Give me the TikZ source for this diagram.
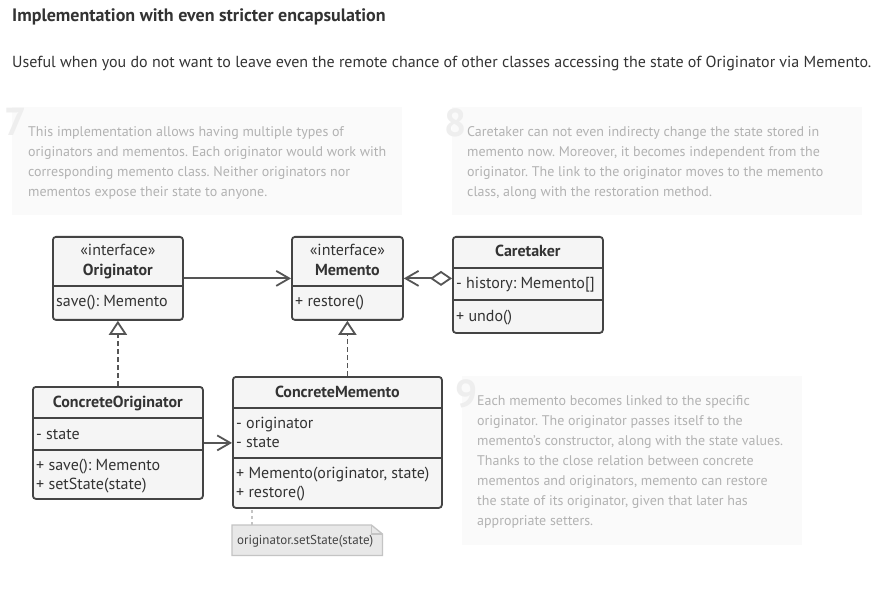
\documentclass[tikz,border=0pt]{standalone}
\usepackage{fontspec}
\setmainfont{PT Sans}
\usetikzlibrary{arrows.meta,positioning}
\frenchspacing

\definecolor{inkdark}{RGB}{51,51,51}
\definecolor{boxline}{RGB}{68,68,68}
\definecolor{boxfill}{RGB}{245,245,245}
\definecolor{wire}{RGB}{85,85,85}
\definecolor{tipfill}{RGB}{250,250,250}
\definecolor{tipink}{RGB}{178,178,178}
\definecolor{numgray}{RGB}{238,238,238}
\definecolor{notefill}{RGB}{232,232,232}
\definecolor{noteline}{RGB}{196,196,196}

\tikzset{
	cls/.style={draw=boxline, fill=boxfill, line width=1.8pt, rounded corners=3pt, inner sep=0pt, anchor=north west},
	clsline/.style={draw=boxline, line width=1.8pt},
	member/.style={text=inkdark, inner sep=0pt, anchor=base west, font=\fontsize{16}{19}\selectfont},
	stereo/.style={member, anchor=base},
	clsname/.style={member, anchor=base, font=\fontsize{16}{19}\selectfont\bfseries},
	assoc/.style={draw=wire, line width=1.8pt, -{Straight Barb[length=13pt, width=15pt]}},
	agg/.style={draw=wire, line width=1.8pt, {Diamond[open, length=22pt, width=15pt]}-{Straight Barb[length=13pt, width=15pt]}},
	realize/.style={draw=wire, line width=1.8pt, dash pattern=on 5pt off 3pt, -{Triangle[open, length=14pt, width=18pt]}},
	tippanel/.style={fill=tipfill, inner sep=0pt, anchor=north west},
	tipnum/.style={text=numgray, inner sep=0pt, anchor=north west, font=\fontsize{39}{39}\selectfont\bfseries},
	tiptext/.style={text=tipink, inner sep=0pt, anchor=north west, align=left, font=\fontsize{14}{20}\selectfont},
	notebox/.style={inner sep=0pt, anchor=north west}
}

\begin{document}
\begin{tikzpicture}[x=1pt, y=-1pt]
	\useasboundingbox[fill=white] (0,0) rectangle (896,601);
	\node[text=inkdark, anchor=base west, inner sep=0pt, font=\fontsize{18}{21}\selectfont\bfseries] (heading) at (12,22) {Implementation with even stricter encapsulation};
	\node[member] (intro) at (12,68) {Useful when you do not want to leave even the remote chance of other classes accessing the state of Originator via Memento.};

	\node[tippanel, minimum width=390pt, minimum height=108pt] (panel7) at (12,107) {};
	\node[tipnum] (num7) at (4,108) {7};
	\node[tiptext] (text7) at (28,126) {This implementation allows having multiple types of\\originators and mementos. Each originator would work with\\corresponding memento class. Neither originators nor\\mementos expose their state to anyone.};

	\node[tippanel, minimum width=410pt, minimum height=108pt] (panel8) at (452,107) {};
	\node[tipnum] (num8) at (444,108) {8};
	\node[tiptext] (text8) at (467,126) {Caretaker can not even indirecty change the state stored in\\memento now. Moreover, it becomes independent from the\\originator. The link to the originator moves to the memento\\class, along with the restoration method.};

	\node[tippanel, minimum width=340pt, minimum height=169pt] (panel9) at (462,376) {};
	\node[tipnum] (num9) at (455,379) {9};
	\node[tiptext] (text9) at (477,395.5) {Each memento becomes linked to the specific\\originator. The originator passes itself to the\\memento's constructor, along with the state values.\\Thanks to the close relation between concrete\\mementos and originators, memento can restore\\the state of its originator, given that later has\\appropriate setters.};

	\node[cls, minimum width=130pt, minimum height=83pt] (orig) at (52,236) {};
	\draw[clsline] ([yshift=-50pt]orig.north west) -- ([yshift=-50pt]orig.north east);
	\node[stereo] (origstereo) at ([yshift=-20pt]orig.north) {«interface»};
	\node[clsname] (origname) at ([yshift=-40pt]orig.north) {Originator};
	\node[member] (origsave) at ([xshift=4pt, yshift=-71pt]orig.north west) {save(): Memento};

	\node[cls, minimum width=111pt, minimum height=83pt] (mem) at (291,236) {};
	\draw[clsline] ([yshift=-50pt]mem.north west) -- ([yshift=-50pt]mem.north east);
	\node[stereo] (memstereo) at ([yshift=-20pt]mem.north) {«interface»};
	\node[clsname] (memname) at ([yshift=-40pt]mem.north) {Memento};
	\node[member] (memrestore) at ([xshift=4pt, yshift=-71pt]mem.north west) {+ restore()};

	\node[cls, minimum width=150pt, minimum height=96pt] (care) at (452,236) {};
	\draw[clsline] ([yshift=-32pt]care.north west) -- ([yshift=-32pt]care.north east);
	\draw[clsline] ([yshift=-64pt]care.north west) -- ([yshift=-64pt]care.north east);
	\node[clsname] (carename) at ([yshift=-21pt]care.north) {Caretaker};
	\node[member] (carehist) at ([xshift=4pt, yshift=-53pt]care.north west) {- history: Memento[]};
	\node[member] (careundo) at ([xshift=4pt, yshift=-86pt]care.north west) {+ undo()};

	\node[cls, minimum width=170pt, minimum height=112pt] (corig) at (32,386) {};
	\draw[clsline] ([yshift=-32pt]corig.north west) -- ([yshift=-32pt]corig.north east);
	\draw[clsline] ([yshift=-64pt]corig.north west) -- ([yshift=-64pt]corig.north east);
	\node[clsname] (coriname) at ([yshift=-21pt]corig.north) {ConcreteOriginator};
	\node[member] (corigstate) at ([xshift=4pt, yshift=-53pt]corig.north west) {- state};
	\node[member] (corigsave) at ([xshift=4pt, yshift=-84pt]corig.north west) {+ save(): Memento};
	\node[member] (corigset) at ([xshift=4pt, yshift=-103pt]corig.north west) {+ setState(state)};

	\node[cls, minimum width=209pt, minimum height=131pt] (cmem) at (232,376) {};
	\draw[clsline] ([yshift=-32pt]cmem.north west) -- ([yshift=-32pt]cmem.north east);
	\draw[clsline] ([yshift=-82pt]cmem.north west) -- ([yshift=-82pt]cmem.north east);
	\node[clsname] (cmemname) at ([yshift=-21pt]cmem.north) {ConcreteMemento};
	\node[member] (cmemorig) at ([xshift=4pt, yshift=-52pt]cmem.north west) {- originator};
	\node[member] (cmemstate) at ([xshift=4pt, yshift=-71pt]cmem.north west) {- state};
	\node[member] (cmemctor) at ([xshift=4pt, yshift=-102pt]cmem.north west) {+ Memento(originator, state)};
	\node[member] (cmemrestore) at ([xshift=4pt, yshift=-121pt]cmem.north west) {+ restore()};

	\node[notebox, minimum width=150pt, minimum height=30pt] (note) at (232,525) {};
	\filldraw[fill=notefill, draw=noteline, line width=1.3pt] (note.north west) -- ([xshift=-11pt]note.north east) -- ([yshift=-9pt]note.north east) -- (note.south east) -- (note.south west) -- cycle;
	\draw[draw=noteline, line width=1.3pt] ([xshift=-11pt]note.north east) -- ([xshift=-11pt, yshift=-9pt]note.north east) -- ([yshift=-9pt]note.north east);
	\node[text=boxline, inner sep=0pt, font=\fontsize{13}{15}\selectfont] (notetext) at ([xshift=-2pt, yshift=-1pt]note.center) {originator.setState(state)};
	\coordinate (notetop) at ([xshift=20pt]note.north west);
	\draw[draw=noteline, line width=1.3pt, dash pattern=on 3pt off 3pt] (notetop) -- (notetop |- cmem.south);

	\draw[assoc] (orig.east) -- (mem.west);
	\draw[agg] (care.west |- mem.east) -- (mem.east);
	\draw[realize] (corig.north) -- (orig.south);
	\draw[realize] (mem.south |- cmem.north) -- (mem.south);
	\draw[assoc] (corig.east) -- (cmem.west |- corig.east);
\end{tikzpicture}
\end{document}
